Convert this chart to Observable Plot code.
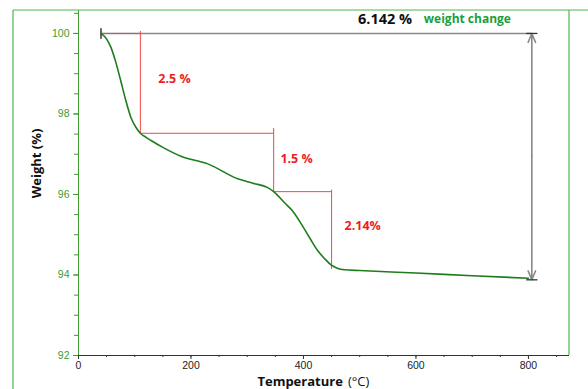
<!DOCTYPE html>
<html><head><meta charset="utf-8">
<script src="https://cdn.jsdelivr.net/npm/d3@7"></script>
<script src="https://cdn.jsdelivr.net/npm/@observablehq/plot@0.6"></script>
<style>html,body{margin:0;padding:0;background:#fff}svg{display:block}</style>
</head><body><div id="chart"></div>
<script>
// TGA curve: temperature (°C) vs weight (%)
const temperature = [40, 50, 57.5, 66, 75, 84, 93, 102, 110, 120, 129, 150, 182, 230, 283, 310, 336.5, 347, 366, 380, 396, 412, 425.5, 438, 449, 460, 473, 500, 600, 700, 800];
const weight      = [100, 99.86, 99.66, 99.3, 98.83, 98.34, 97.92, 97.67, 97.52, 97.42, 97.34, 97.17, 96.95, 96.76, 96.39, 96.28, 96.17, 96.07, 95.8, 95.6, 95.27, 94.9, 94.6, 94.4, 94.25, 94.17, 94.13, 94.11, 94.05, 93.98, 93.92];

// Step construction lines (red)
const stepX1 = [40, 110, 110, 347, 347, 450];
const stepY1 = [100, 100.06, 97.52, 97.65, 96.07, 96.12];
const stepX2 = [110, 110, 347, 347, 450, 450];
const stepY2 = [100, 97.52, 97.52, 96.07, 96.07, 94.15];

// Step labels
const stepLabels = ["2.5 %", "1.5 %", "2.14%"];
const stepLabelX = [142, 359, 473];
const stepLabelY = [98.86, 96.87, 95.21];

// Total weight change bracket
const totalChange = "6.142 %";
const totalStart = [40, 100];
const totalEnd = [806, 93.88];

const xTicks = [0, 200, 400, 600, 800];
const xMinor = d3.range(0, 873, 50);
const yTicks = [92, 94, 96, 98, 100];
const yMinor = d3.range(92, 100.6, 0.5);

const GREEN_AXIS = "#3f9a30";
const RED = "#f04848";

const segs = stepX1.map((x, i) => ({x1: x, y1: stepY1[i], x2: stepX2[i], y2: stepY2[i]}));
const curve = temperature.map((t, i) => ({t, w: weight[i]}));
const labels = stepLabels.map((s, i) => ({s, x: stepLabelX[i], y: stepLabelY[i]}));
const midY = (totalStart[1] + totalEnd[1]) / 2;

const chart = Plot.plot({
  width: 588, height: 389,
  marginLeft: 78, marginRight: 19, marginTop: 10, marginBottom: 34,
  x: {domain: [0, 873]},
  y: {domain: [92, 100.57]},
  style: {fontFamily: "'Liberation Sans', Arial, sans-serif", fontSize: "10px", background: "#fff"},
  marks: [
    Plot.axisX({ticks: xMinor, tickSize: 2, tickFormat: () => "", stroke: "#333", label: null}),
    Plot.axisX({ticks: xTicks, tickSize: 4, tickPadding: 2, stroke: "#333", fill: "#222", label: null, fontSize: 10.5}),
    Plot.axisY({ticks: yMinor, tickSize: 4, tickFormat: () => "", stroke: GREEN_AXIS, label: null}),
    Plot.axisY({ticks: yTicks, tickSize: 5, tickPadding: 4, stroke: GREEN_AXIS, fill: GREEN_AXIS, label: null, fontSize: 10.5}),
    Plot.ruleX([0], {stroke: GREEN_AXIS, strokeWidth: 1}),
    Plot.ruleY([92], {stroke: "#333", strokeWidth: 1.2}),
    // gray bracket
    Plot.link([0], {x1: totalStart[0], y1: totalStart[1], x2: totalEnd[0], y2: totalStart[1], stroke: "#888", strokeWidth: 1.6}),
    Plot.arrow([0], {x1: totalEnd[0], y1: midY, x2: totalEnd[0], y2: totalStart[1], stroke: "#888", strokeWidth: 1.6, headLength: 9, headAngle: 45}),
    Plot.arrow([0], {x1: totalEnd[0], y1: midY, x2: totalEnd[0], y2: totalEnd[1], stroke: "#888", strokeWidth: 1.6, headLength: 9, headAngle: 45}),
    Plot.link([0], {x1: totalStart[0], y1: totalStart[1] + 0.13, x2: totalStart[0], y2: totalStart[1] - 0.13, stroke: "#333", strokeWidth: 1.5}),
    Plot.link([0], {x1: totalEnd[0] - 10, y1: totalStart[1], x2: totalEnd[0] + 10, y2: totalStart[1], stroke: "#333", strokeWidth: 1.3}),
    Plot.link([0], {x1: totalEnd[0] - 10, y1: totalEnd[1], x2: totalEnd[0] + 10, y2: totalEnd[1], stroke: "#333", strokeWidth: 1.3}),
    // red steps
    Plot.link(segs, {x1: "x1", y1: "y1", x2: "x2", y2: "y2", stroke: RED, strokeWidth: 1}),
    // curve
    Plot.line(curve, {x: "t", y: "w", stroke: "#1d7d1d", strokeWidth: 1.6, curve: "monotone-x"}),
    // labels
    Plot.text(labels, {x: "x", y: "y", text: "s", fill: "#ee1c24", fontWeight: "bold", fontSize: 12.5, textAnchor: "start", fontFamily: "'Open Sans', sans-serif"}),
    Plot.text([totalChange], {x: 497, y: 100.36, text: d => d, fill: "#111", fontWeight: "bold", fontSize: 14.5, textAnchor: "start", fontFamily: "'Open Sans', sans-serif"}),
    Plot.text(["weight change"], {x: 614, y: 100.35, text: d => d, fill: "#1a9e3c", fontWeight: "bold", fontSize: 12, textAnchor: "start", fontFamily: "'Open Sans', sans-serif"}),
    // axis titles
    Plot.text(["Weight (%)"], {x: -74, y: 96.77, rotate: -90, text: d => d, fill: "#111", fontWeight: "bold", fontSize: 13, fontFamily: "'Open Sans', sans-serif"}),
    Plot.text(["Temperature"], {x: 470, frameAnchor: "bottom", dy: 30, text: d => d, fill: "#111", fontWeight: "bold", fontSize: 13, textAnchor: "end", fontFamily: "'Open Sans', sans-serif"}),
    Plot.text(["(°C)"], {x: 479, frameAnchor: "bottom", dy: 30, text: d => d, fill: "#111", fontSize: 13, textAnchor: "start", fontFamily: "'Open Sans', sans-serif"})
  ]
});

// decorative green outer frame
const svg = d3.select(chart);
const g = svg.append("g").attr("stroke", "#4cb84c").attr("stroke-width", 1.2).attr("fill", "none");
g.append("line").attr("x1", 13).attr("y1", 10).attr("x2", 13).attr("y2", 389);
g.append("line").attr("x1", 13).attr("y1", 10).attr("x2", 588).attr("y2", 10);
g.append("line").attr("x1", 569).attr("y1", 10).attr("x2", 569).attr("y2", 355);
document.getElementById("chart").appendChild(chart);
</script>
</body></html>
